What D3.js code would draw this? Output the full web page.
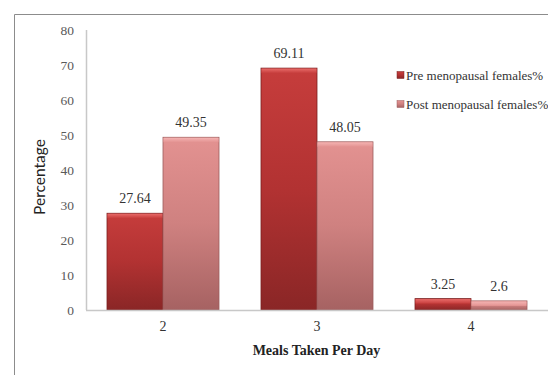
<!DOCTYPE html>
<html>
<head>
<meta charset="utf-8">
<script src="https://cdn.jsdelivr.net/npm/d3@7"></script>
<style>
  html, body { margin: 0; padding: 0; background: #fff; }
  svg { display: block; }
</style>
</head>
<body>
<svg id="chart" width="548" height="375"></svg>
<script>
// Meals taken per day, share of women in each group
const categories = ["2", "3", "4"];
const seriesNames = ["Pre menopausal females%", "Post menopausal females%"];
const preValues = [27.64, 69.11, 3.25];
const postValues = [49.35, 48.05, 2.6];
const yTicks = [0, 10, 20, 30, 40, 50, 60, 70, 80];

const SERIF = "Liberation Serif";
const SANS = "Lato";

const svg = d3.select("#chart");
const W = 548, H = 375;
const m = { left: 86, top: 30, right: 0, bottom: 65 };
const plotBottom = H - m.bottom; // 310

// outer frame (top and left edges visible)
svg.append("path")
  .attr("d", `M14.5,${H} L14.5,14.5 L${W},14.5`)
  .attr("fill", "none").attr("stroke", "#8c8c8c").attr("stroke-width", 1);

const x0 = d3.scaleBand().domain(categories).range([m.left, W - m.right]).paddingInner(0).paddingOuter(0);
const x1 = d3.scaleBand().domain(seriesNames).range([0, x0.bandwidth()]).paddingInner(0).paddingOuter(0.375);
const y = d3.scaleLinear().domain([0, 80]).range([plotBottom, m.top]);

// gradients
const defs = svg.append("defs");
function grad(id, stops) {
  const g = defs.append("linearGradient").attr("id", id).attr("x1", 0).attr("y1", 0).attr("x2", 0).attr("y2", 1);
  stops.forEach(([o, c]) => g.append("stop").attr("offset", o).attr("stop-color", c));
}
grad("gPre", [[0, "#c63d3c"], [0.5, "#b23232"], [1, "#8a2626"]]);
grad("gPost", [[0, "#e39291"], [0.5, "#cf8180"], [1, "#a66262"]]);
grad("gPreTop", [[0, "#e86a68"], [1, "#c63d3c"]]);
grad("gPostTop", [[0, "#f4b3b2"], [1, "#e39291"]]);
const fills = { [seriesNames[0]]: "url(#gPre)", [seriesNames[1]]: "url(#gPost)" };
const tops = { [seriesNames[0]]: "url(#gPreTop)", [seriesNames[1]]: "url(#gPostTop)" };
const edges = { [seriesNames[0]]: "#7a2020", [seriesNames[1]]: "#9c5c5c" };

// y axis line
svg.append("line").attr("x1", m.left + 0.5).attr("x2", m.left + 0.5).attr("y1", y(80)).attr("y2", plotBottom)
  .attr("stroke", "#c8c8c8").attr("stroke-width", 1.5);

// y tick labels
const yAxis = d3.axisLeft(y).tickValues(yTicks).tickSize(0).tickPadding(12);
const gy = svg.append("g").attr("transform", `translate(${m.left},0)`).call(yAxis)
  .attr("font-family", SERIF).attr("font-size", 13.5);
gy.select(".domain").remove();
gy.selectAll("text").attr("fill", "#595959");

// bars
const rows = categories.map((c, i) => ({ cat: c, vals: [
  { s: seriesNames[0], v: preValues[i] }, { s: seriesNames[1], v: postValues[i] }] }));

const groups = svg.append("g").selectAll("g").data(rows).join("g")
  .attr("transform", d => `translate(${x0(d.cat)},0)`);

groups.each(function(d) {
  const g = d3.select(this);
  d.vals.forEach(b => {
    const bx = x1(b.s), bw = x1.bandwidth();
    const by = y(b.v), bh = plotBottom - y(b.v);
    g.append("rect").attr("x", bx).attr("y", by).attr("width", bw).attr("height", bh)
      .attr("fill", fills[b.s]).attr("stroke", edges[b.s]).attr("stroke-width", 0.8);
    const capH = Math.min(5, bh);
    g.append("rect").attr("x", bx + 0.5).attr("y", by + 0.5).attr("width", bw - 1).attr("height", capH - 0.5)
      .attr("fill", tops[b.s]);
    g.append("text").attr("x", bx + bw / 2).attr("y", by - 10)
      .attr("text-anchor", "middle").attr("font-family", SERIF)
      .attr("font-size", 14).attr("fill", "#333")
      .text(b.v);
  });
});

// x axis
svg.append("line").attr("x1", m.left).attr("x2", W).attr("y1", plotBottom + 0.5).attr("y2", plotBottom + 0.5)
  .attr("stroke", "#c8c8c8").attr("stroke-width", 1.5);
const xAxis = d3.axisBottom(x0).tickSize(0).tickPadding(11);
const gx = svg.append("g").attr("transform", `translate(0,${plotBottom})`).call(xAxis)
  .attr("font-family", SERIF).attr("font-size", 14);
gx.select(".domain").remove();
gx.selectAll("text").attr("fill", "#333");

// axis titles
svg.append("text").attr("x", (m.left + W) / 2 - 0.5).attr("y", 355)
  .attr("text-anchor", "middle").attr("font-family", SERIF)
  .attr("font-weight", "bold").attr("font-size", 14).attr("fill", "#222")
  .text("Meals Taken Per Day");

svg.append("text").attr("transform", "translate(45,177) rotate(-90)")
  .attr("text-anchor", "middle").attr("font-family", SANS)
  .attr("font-size", 15.5).attr("fill", "#222")
  .text("Percentage");

// legend
const legend = svg.append("g");
seriesNames.forEach((s, i) => {
  const ly = 75 + i * 29;
  legend.append("rect").attr("x", 397).attr("y", ly - 3.5).attr("width", 7).attr("height", 7)
    .attr("fill", fills[s]).attr("stroke", edges[s]).attr("stroke-width", 0.5);
  legend.append("text").attr("x", 406).attr("y", ly + 4.5).attr("font-family", SERIF)
    .attr("font-size", 13).attr("fill", "#333").text(s);
});
</script>
</body>
</html>
